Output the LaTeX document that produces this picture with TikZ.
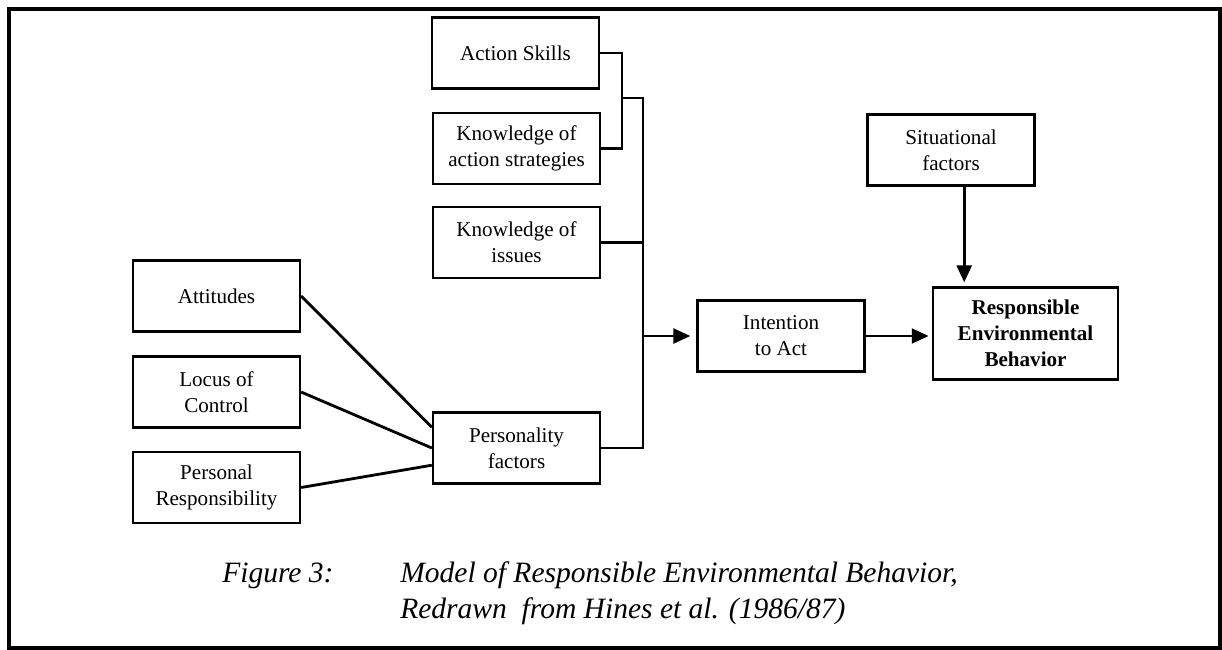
\documentclass[tikz,border=0pt]{standalone}
\usepackage{fontspec}
\setmainfont{Liberation Serif}
\usepackage{tikz}
\usetikzlibrary{positioning,arrows.meta}

\begin{document}
\begin{tikzpicture}[x=0.025cm,y=-0.025cm,font=\fontsize{15}{18.5}\selectfont,>={Triangle[length=12pt,width=10.5pt]},
  b/.style={draw,line width=1.6pt,minimum width=4.175cm,minimum height=1.775cm,align=center,inner sep=2pt},
  l/.style={line width=2pt},
  capt/.style={font=\fontsize{21}{25}\selectfont\itshape,anchor=base west,inner sep=0pt}]
\useasboundingbox (0,0) rectangle (1222,650);
\draw[line width=2.2pt] (9,9) rectangle (1220,648);
% knowledge and skills column
\node[b](skills) at (515.5,53){Action Skills};
\node[b](strat) at (516.5,148.5){Knowledge of\\action strategies};
\node[b](issues) at (516.5,242.5){Knowledge of\\issues};
\node[b](persfac) at (516.5,448){Personality\\factors};
% personality inputs
\node[b](attit) at (216.5,296){Attitudes};
\node[b](locus) at (216.5,392){Locus of\\Control};
\node[b](persresp) at (216.5,487.5){Personal\\Responsibility};
% right part
\node[b](intent) at (781,336){Intention\\to Act};
\node[b,minimum width=4.625cm,minimum height=2.3cm,font=\fontsize{15}{18.5}\selectfont\bfseries](reb) at (1025.5,333.5){Responsible\\Environmental\\Behavior};
\node[b](situ) at (951,150){Situational\\factors};
\coordinate (brk) at (622,98);
\coordinate (bus) at (643,98);
\draw[l](skills.east)-|(brk)|-(strat.east);
\draw[l](brk)--(bus)|-(persfac.east);
\draw[l](issues.east)--(issues.east-|bus);
\draw[l,->,shorten >=0.15cm](intent.west-|bus)--(intent.west);
\draw[l,->,shorten >=0.08cm](intent.east)--(intent.east-|reb.west);
\draw[l,->,shorten >=0.1cm]([xshift=0.33cm]situ.south)--([xshift=0.33cm]situ.south|-reb.north);
\draw[l](attit.east)--([yshift=0.52cm]persfac.west);
\draw[l](locus.east)--(persfac.west);
\draw[l](persresp.east)--([yshift=-0.43cm]persfac.west);
% caption
\node[capt](fig) at (222,582){Figure 3:};
\node[capt](cap1) at (400,582){Model of Responsible Environmental Behavior,};
\node[capt](cap2) at (400,618){Redrawn\ \ from Hines et al. (1986/87)};
\end{tikzpicture}
\end{document}
